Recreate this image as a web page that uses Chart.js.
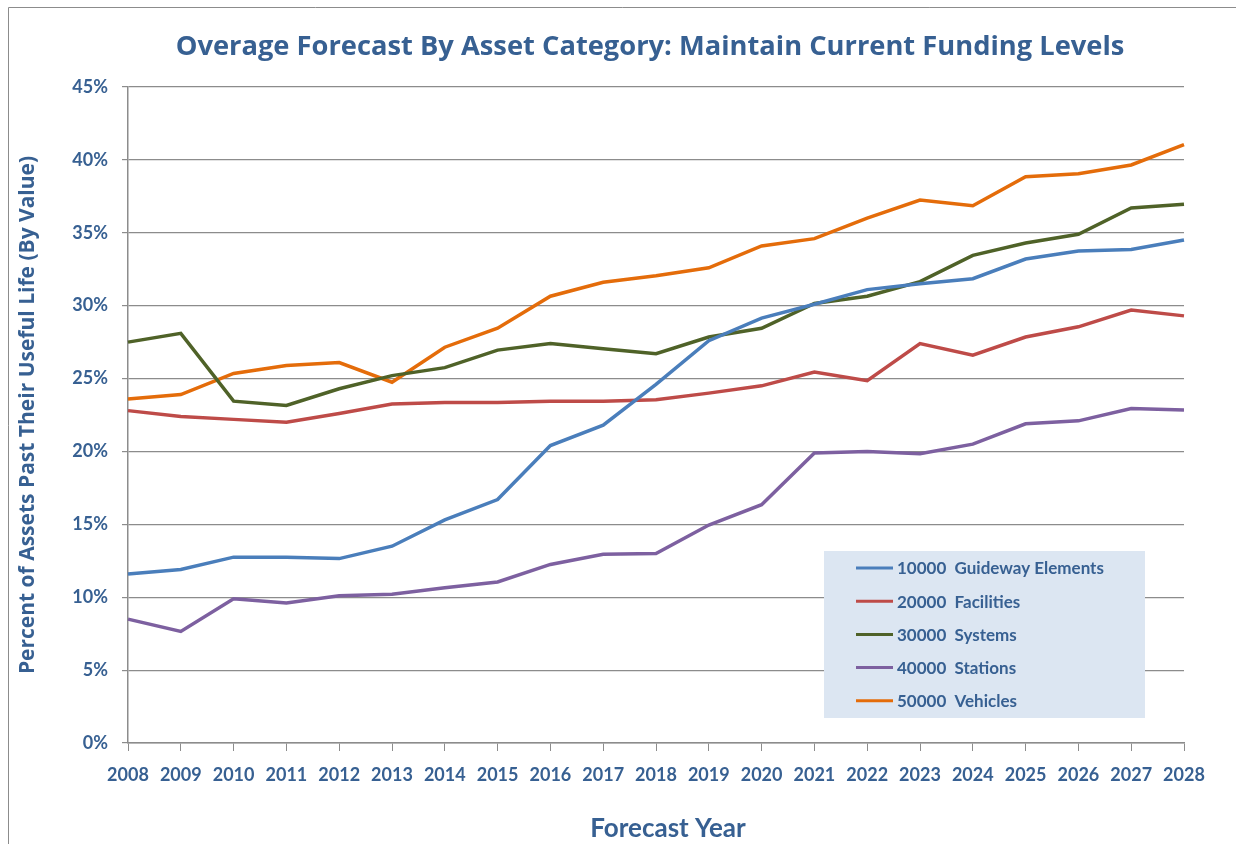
<!DOCTYPE html>
<html>
<head>
<meta charset="utf-8">
<script src="https://cdn.jsdelivr.net/npm/chart.js@4.4.0/dist/chart.umd.min.js"></script>
<style>
  html, body { margin: 0; padding: 0; background: #ffffff; }
  #wrap { width: 1241px; height: 844px; }
</style>
</head>
<body>
<div id="wrap"><canvas id="c" width="1241" height="844"></canvas></div>
<script>
const years = ['2008','2009','2010','2011','2012','2013','2014','2015','2016','2017','2018','2019','2020','2021','2022','2023','2024','2025','2026','2027','2028'];
const guideway   = [11.6, 11.9, 12.75, 12.75, 12.65, 13.5, 15.3, 16.7, 20.4, 21.8, 24.6, 27.6, 29.15, 30.1, 31.1, 31.5, 31.85, 33.2, 33.75, 33.85, 34.5];
const facilities = [22.8, 22.4, 22.2, 22.0, 22.6, 23.25, 23.35, 23.35, 23.45, 23.45, 23.55, 24.0, 24.5, 25.45, 24.85, 27.4, 26.6, 27.85, 28.55, 29.7, 29.3];
const systems    = [27.5, 28.1, 23.45, 23.15, 24.3, 25.2, 25.75, 26.95, 27.4, 27.05, 26.7, 27.85, 28.45, 30.15, 30.65, 31.65, 33.45, 34.3, 34.9, 36.7, 36.95];
const stations   = [8.5, 7.65, 9.9, 9.6, 10.1, 10.2, 10.65, 11.05, 12.25, 12.95, 13.0, 14.95, 16.35, 19.9, 20.0, 19.85, 20.5, 21.9, 22.1, 22.95, 22.85];
const vehicles   = [23.6, 23.9, 25.35, 25.9, 26.1, 24.75, 27.15, 28.45, 30.65, 31.6, 32.05, 32.6, 34.1, 34.6, 36.0, 37.25, 36.85, 38.85, 39.05, 39.65, 41.05];
const seriesLabels = ['10000  Guideway Elements', '20000  Facilities', '30000  Systems', '40000  Stations', '50000  Vehicles'];
const yTicks = [0, 5, 10, 15, 20, 25, 30, 35, 40, 45];

const TXT = '#376092';
const FONT = 'Lato, "Open Sans", sans-serif';
const WIDE = '"Open Sans", Lato, sans-serif';
const colors = ['#4A7EBB', '#BE4B48', '#4F6228', '#7D60A0', '#E46C0A'];
const seriesData = [guideway, facilities, systems, stations, vehicles];

const datasets = seriesData.map((d, i) => ({
  label: seriesLabels[i],
  data: d,
  borderColor: colors[i],
  backgroundColor: colors[i],
  borderWidth: 3.5,
  pointRadius: 0,
  pointHoverRadius: 0,
  tension: 0,
  fill: false
}));

const decor = {
  id: 'decor',
  beforeDraw(chart) {
    const ctx = chart.ctx;
    ctx.save();
    ctx.fillStyle = '#ffffff';
    ctx.fillRect(0, 0, chart.width, chart.height);
    ctx.strokeStyle = '#8C8C8C';
    ctx.lineWidth = 1;
    ctx.beginPath();
    ctx.moveTo(8.5, 844);
    ctx.lineTo(8.5, 7.5);
    ctx.lineTo(1236, 7.5);
    ctx.stroke();
    ctx.restore();
  },
  afterDraw(chart) {
    const ctx = chart.ctx;
    ctx.save();
    // title
    ctx.fillStyle = TXT;
    ctx.font = 'bold 27.3px ' + WIDE;
    ctx.textAlign = 'center';
    ctx.textBaseline = 'middle';
    ctx.fillText('Overage Forecast By Asset Category: Maintain Current Funding Levels', 650, 47);
    // x axis title
    ctx.font = 'bold 26px ' + FONT;
    ctx.fillText('Forecast Year', 668, 829);
    // legend
    const bx = 824, by = 551, bw = 321, bh = 167;
    ctx.fillStyle = '#DCE6F2';
    ctx.fillRect(bx, by, bw, bh);
    ctx.font = 'bold 17px ' + FONT;
    ctx.textAlign = 'left';
    chart.data.datasets.forEach((ds, i) => {
      const cy = 568 + i * 33.2;
      ctx.strokeStyle = ds.borderColor;
      ctx.lineWidth = 3;
      ctx.beginPath();
      ctx.moveTo(856, cy);
      ctx.lineTo(893, cy);
      ctx.stroke();
      ctx.fillStyle = TXT;
      ctx.fillText(ds.label, 897, cy + 1);
    });
    ctx.restore();
  }
};

new Chart(document.getElementById('c'), {
  type: 'line',
  data: { labels: years, datasets: datasets },
  options: {
    responsive: false,
    animation: false,
    events: [],
    layout: { padding: { top: 87, right: 57, left: 0, bottom: 0 } },
    plugins: {
      legend: { display: false },
      title: { display: false },
      tooltip: { enabled: false }
    },
    scales: {
      x: {
        type: 'category',
        offset: false,
        grid: { display: true, drawOnChartArea: false, drawTicks: true, tickLength: 8, color: '#8C8C8C', lineWidth: 1 },
        border: { display: true, color: '#8C8C8C', width: 1.5 },
        ticks: {
          color: TXT,
          font: { family: FONT, size: 18, weight: 'bold' },
          padding: 13,
          maxRotation: 0,
          autoSkip: false
        },
        title: { display: false },
        afterFit(scale) { scale.height = 101; }
      },
      y: {
        min: 0,
        max: 45,
        afterBuildTicks(scale) { scale.ticks = yTicks.map(v => ({ value: v })); },
        grid: { display: true, drawOnChartArea: true, drawTicks: true, tickLength: 6, color: '#8C8C8C', lineWidth: 1.2 },
        border: { display: true, color: '#8C8C8C', width: 1.5 },
        ticks: {
          color: TXT,
          font: { family: FONT, size: 18, weight: 'bold' },
          padding: 14,
          callback: v => v + '%'
        },
        title: {
          display: true,
          text: 'Percent of Assets Past Their Useful Life (By Value)',
          color: TXT,
          font: { family: WIDE, size: 21, weight: 'bold' },
          padding: { top: 15, bottom: 0 }
        },
        afterFit(scale) { scale.width = 128; }
      }
    }
  },
  plugins: [decor]
});
</script>
</body>
</html>
